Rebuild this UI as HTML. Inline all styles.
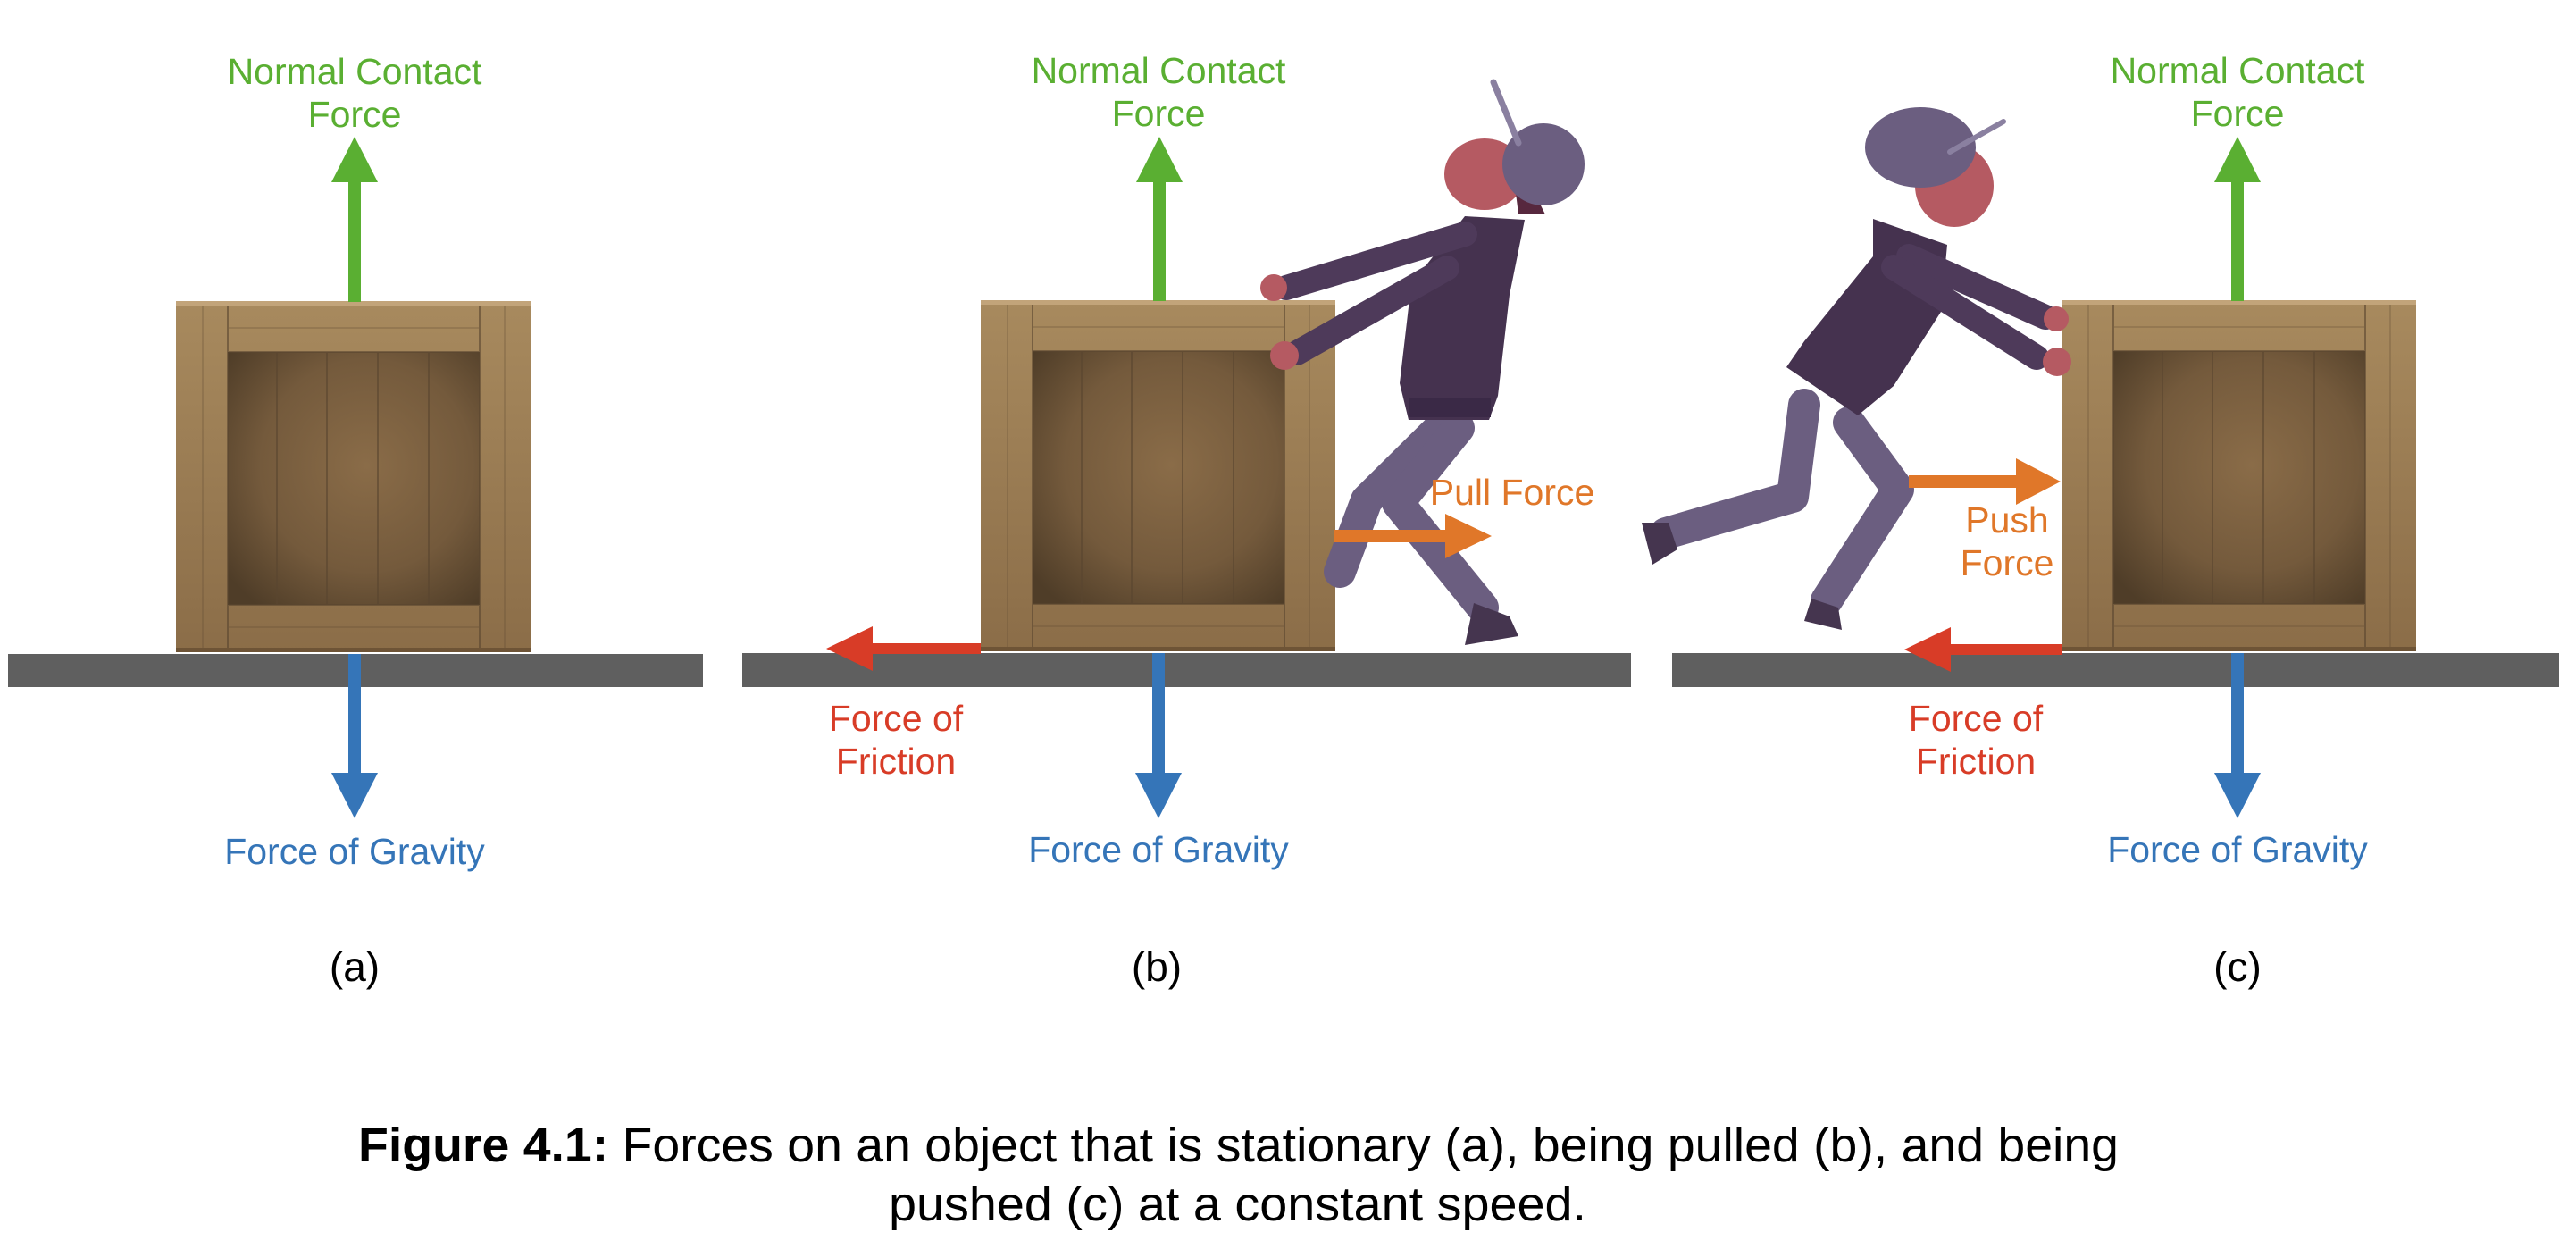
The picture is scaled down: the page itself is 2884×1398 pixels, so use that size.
<!DOCTYPE html>
<html><head><meta charset="utf-8"><style>
html,body{margin:0;padding:0;background:#fff;}
svg{display:block;}
text{font-family:"Liberation Sans",sans-serif;}
</style></head><body>
<svg width="2884" height="1398" viewBox="0 0 2884 1398" xmlns="http://www.w3.org/2000/svg">
<defs>
 <radialGradient id="inner" cx="0.55" cy="0.45" r="0.7">
  <stop offset="0" stop-color="#8a6c48"/><stop offset="0.6" stop-color="#745a3c"/><stop offset="1" stop-color="#4f3d28"/>
 </radialGradient>
 <linearGradient id="wood" x1="0" y1="0" x2="0" y2="1">
  <stop offset="0" stop-color="#a88a5e"/><stop offset="1" stop-color="#8b6d48"/>
 </linearGradient>
 <g id="crate">
  <rect x="0" y="0" width="397" height="393" fill="url(#wood)"/>
  <rect x="0" y="0" width="397" height="5" fill="#c2a47a"/>
  <rect x="58" y="57" width="282" height="283" fill="url(#inner)"/>
  <g stroke="#5a4630" stroke-width="2" opacity="0.6">
   <line x1="113" y1="57" x2="113" y2="340"/><line x1="169" y1="57" x2="169" y2="340"/>
   <line x1="226" y1="57" x2="226" y2="340"/><line x1="283" y1="57" x2="283" y2="340"/>
   <line x1="58" y1="5" x2="58" y2="390"/><line x1="340" y1="5" x2="340" y2="390"/>
   <line x1="58" y1="57" x2="340" y2="57"/><line x1="58" y1="340" x2="340" y2="340"/>
   <line x1="58" y1="30" x2="340" y2="30" opacity="0.4"/><line x1="58" y1="365" x2="340" y2="365" opacity="0.4"/>
   <line x1="30" y1="5" x2="30" y2="390" opacity="0.4"/><line x1="368" y1="5" x2="368" y2="390" opacity="0.4"/>
  </g>
  <rect x="0" y="388" width="397" height="5" fill="#6e5436"/>
 </g>
</defs>

<rect x="9" y="732" width="778" height="37" fill="#5f5f5f"/>
<rect x="831" y="731" width="995" height="38" fill="#5f5f5f"/>
<rect x="1872" y="731" width="993" height="38" fill="#5f5f5f"/>

<use href="#crate" x="197" y="337"/>
<use href="#crate" x="1098" y="336"/>
<use href="#crate" x="2308" y="336"/>

<rect x="390" y="200" width="14" height="138" fill="#5aaf32"/>
<polygon points="371,204 423,204 397,153" fill="#5aaf32"/>
<rect x="390" y="732" width="14" height="135" fill="#3575b8"/>
<polygon points="371,865 423,865 397,916" fill="#3575b8"/>

<rect x="1291" y="200" width="14" height="137" fill="#5aaf32"/>
<polygon points="1272,204 1324,204 1298,153" fill="#5aaf32"/>
<rect x="1290" y="731" width="14" height="136" fill="#3575b8"/>
<polygon points="1271,865 1323,865 1297,916" fill="#3575b8"/>

<rect x="2498" y="200" width="14" height="137" fill="#5aaf32"/>
<polygon points="2479,204 2531,204 2505,153" fill="#5aaf32"/>
<rect x="2498" y="731" width="14" height="136" fill="#3575b8"/>
<polygon points="2479,865 2531,865 2505,916" fill="#3575b8"/>

<g>
 <g stroke="#6b5e80" stroke-linecap="round" stroke-linejoin="round" fill="none" stroke-width="36">
  <polyline points="1617,474 1530,560 1500,640"/>
  <polyline points="1633,479 1565,563 1660,680"/>
 </g>
 <polygon points="1650,675 1690,690 1700,712 1640,722" fill="#45354f"/>
 <polygon points="1640,242 1707,246 1690,330 1677,443 1667,470 1577,470 1567,429 1580,318" fill="#45324f"/>
 <rect x="1577" y="445" width="92" height="22" fill="#3a2946"/>
 <g stroke="#4e3a5a" stroke-linecap="round" stroke-width="28" fill="none">
  <line x1="1640" y1="262" x2="1440" y2="322"/>
  <line x1="1620" y1="300" x2="1452" y2="395"/>
 </g>
 <circle cx="1426" cy="322" r="15" fill="#b55a62"/>
 <circle cx="1438" cy="398" r="16" fill="#b55a62"/>
 <ellipse cx="1662" cy="195" rx="45" ry="40" fill="#b55a62"/>
 <path d="M1690,160 L1730,240 L1700,240 Z" fill="#57283e"/>
 <circle cx="1728" cy="184" r="46" fill="#6b5e80"/>
 <line x1="1672" y1="92" x2="1700" y2="160" stroke="#8a80a0" stroke-width="7" stroke-linecap="round"/>
</g>

<g>
 <g stroke="#6b5e80" stroke-linecap="round" stroke-linejoin="round" fill="none" stroke-width="36">
  <polyline points="2020,453 2007,556 1865,597"/>
  <polyline points="2070,473 2125,548 2045,672"/>
 </g>
 <polygon points="1838,585 1868,585 1878,615 1850,632" fill="#45354f"/>
 <polygon points="2028,670 2058,680 2062,705 2020,695" fill="#45354f"/>
 <polygon points="2097,245 2180,274 2173,349 2120,432 2080,465 2000,411 2020,382 2097,287" fill="#45324f"/>
 <g stroke="#4e3a5a" stroke-linecap="round" stroke-width="28" fill="none">
  <line x1="2137" y1="287" x2="2290" y2="355"/>
  <line x1="2120" y1="299" x2="2280" y2="400"/>
 </g>
 <circle cx="2302" cy="357" r="14" fill="#b55a62"/>
 <circle cx="2303" cy="405" r="16" fill="#b55a62"/>
 <ellipse cx="2188" cy="208" rx="44" ry="46" fill="#b55a62"/>
 <ellipse cx="2150" cy="165" rx="62" ry="45" fill="#6b5e80"/>
 <line x1="2183" y1="170" x2="2243" y2="136" stroke="#8a80a0" stroke-width="6" stroke-linecap="round"/>
</g>

<rect x="970" y="720" width="128" height="12" fill="#d83c27"/>
<polygon points="977,701 977,751 925,726" fill="#d83c27"/>
<rect x="2178" y="721" width="130" height="12" fill="#d83c27"/>
<polygon points="2184,702 2184,752 2132,727" fill="#d83c27"/>
<rect x="1493" y="593" width="130" height="14" fill="#e07729"/>
<polygon points="1618,575 1618,625 1670,600" fill="#e07729"/>
<rect x="2137" y="532" width="125" height="14" fill="#e07729"/>
<polygon points="2257,513 2257,565 2307,539" fill="#e07729"/>

<g font-size="41" text-anchor="middle">
 <text x="397" y="94" fill="#5aaf32">Normal Contact</text>
 <text x="397" y="142" fill="#5aaf32">Force</text>
 <text x="1297" y="93" fill="#5aaf32">Normal Contact</text>
 <text x="1297" y="141" fill="#5aaf32">Force</text>
 <text x="2505" y="93" fill="#5aaf32">Normal Contact</text>
 <text x="2505" y="141" fill="#5aaf32">Force</text>
 <text x="397" y="967" fill="#3575b8">Force of Gravity</text>
 <text x="1297" y="965" fill="#3575b8">Force of Gravity</text>
 <text x="2505" y="965" fill="#3575b8">Force of Gravity</text>
 <text x="1003" y="818" fill="#d83c27">Force of</text>
 <text x="1003" y="866" fill="#d83c27">Friction</text>
 <text x="2212" y="818" fill="#d83c27">Force of</text>
 <text x="2212" y="866" fill="#d83c27">Friction</text>
 <text x="1693" y="565" fill="#e07729">Pull Force</text>
 <text x="2247" y="596" fill="#e07729">Push</text>
 <text x="2247" y="644" fill="#e07729">Force</text>
</g>
<g font-size="46" text-anchor="middle" fill="#000">
 <text x="397" y="1098">(a)</text>
 <text x="1295" y="1098">(b)</text>
 <text x="2505" y="1098">(c)</text>
</g>
<text x="401" y="1300" font-size="54" fill="#000" textLength="1971" lengthAdjust="spacingAndGlyphs"><tspan font-weight="bold">Figure 4.1:</tspan> Forces on an object that is stationary (a), being pulled (b), and being</text>
<text x="995" y="1366" font-size="54" fill="#000" textLength="781" lengthAdjust="spacingAndGlyphs">pushed (c) at a constant speed.</text>
</svg>
</body></html>
